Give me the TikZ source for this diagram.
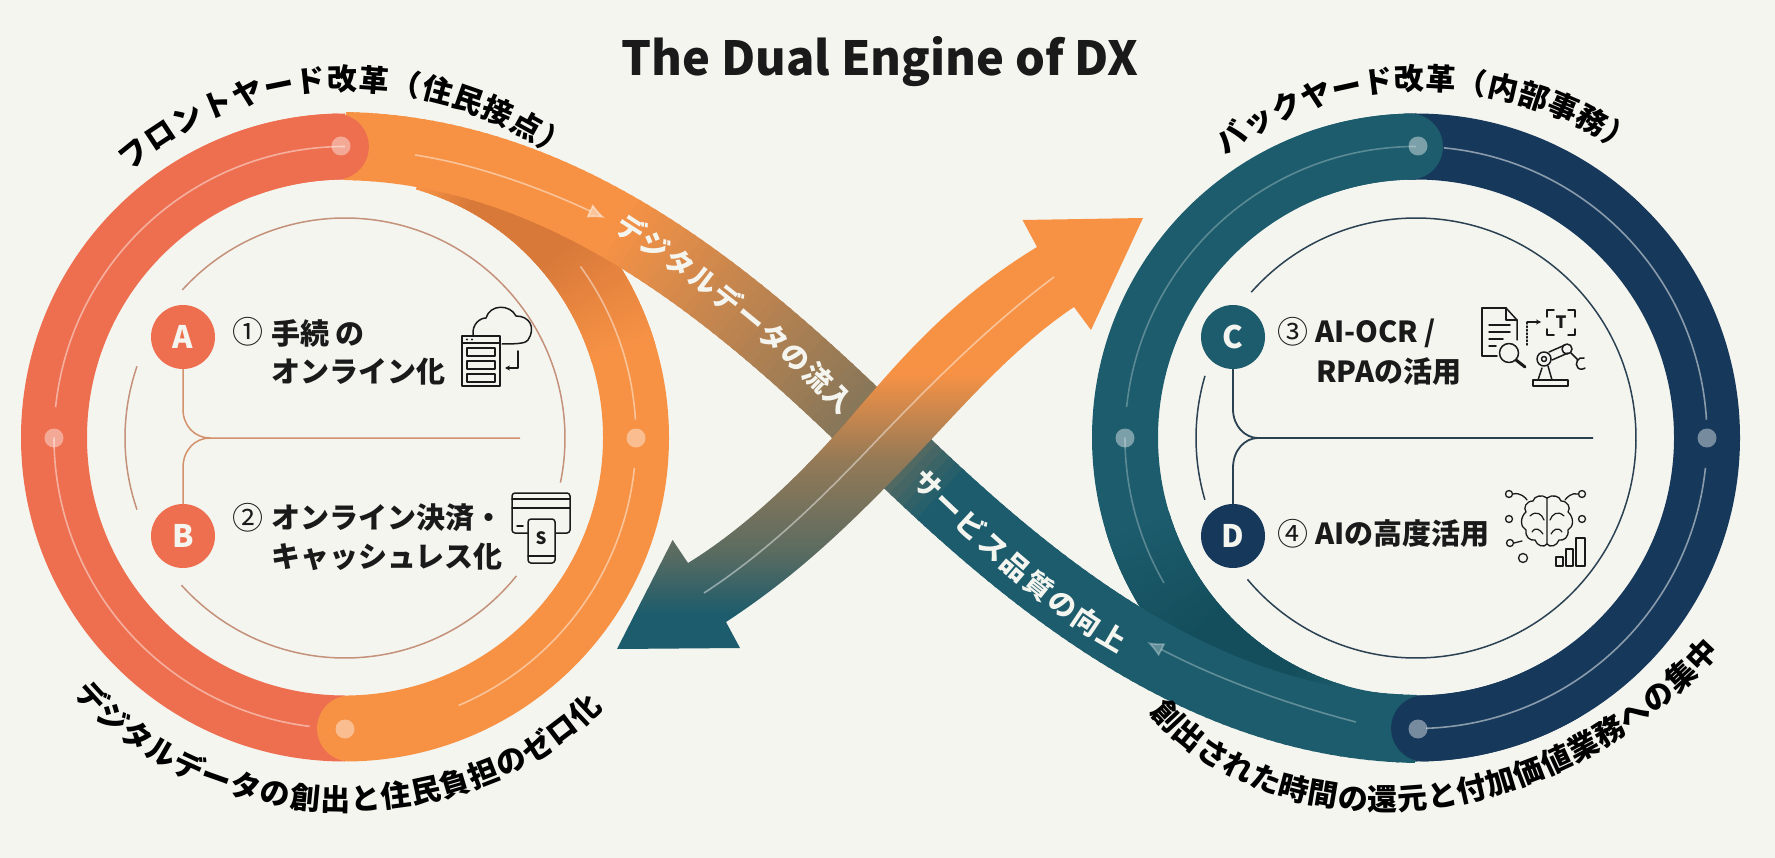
\documentclass[tikz,border=0pt]{standalone}
\usepackage{fontspec}
\setmainfont{Noto Sans CJK JP}
\usetikzlibrary{arrows.meta,decorations.text,decorations.pathmorphing}
\definecolor{bgc}{HTML}{F5F5F0}
\definecolor{coralc}{HTML}{EE6F50}
\definecolor{orangec}{HTML}{F79245}
\definecolor{orangedark}{HTML}{D8793A}
\definecolor{tealc}{HTML}{1C5C6C}
\definecolor{tealdark}{HTML}{144E5C}
\definecolor{navyc}{HTML}{16385A}
\definecolor{inkc}{HTML}{1A1A1A}
\definecolor{lineleft}{HTML}{C4917B}
\definecolor{lineright}{HTML}{2A4152}
\colorlet{mixa}{orangec!55!tealc}
\colorlet{mixb}{orangec!28!tealc}
\pgfdeclareverticalshading{crossshade}{100bp}{color(0bp)=(tealc); color(29bp)=(tealc); color(36bp)=(mixb); color(47bp)=(mixa); color(57bp)=(orangec); color(100bp)=(orangec)}
\newcommand\ribbez[6]{\pgfmathsetmacro#1{(1-#2)*(1-#2)*(1-#2)*#3+3*(1-#2)*(1-#2)*#2*#4+3*(1-#2)*#2*#2*#5+#2*#2*#2*#6}}
\newcommand\arcfont{\fontsize{30}{30}\selectfont\bfseries}
\newcommand\ribfont{\fontsize{28}{28}\selectfont\bfseries}
\newcommand\itemfont{\fontsize{29}{29}\selectfont\bfseries}
\newcommand\numfont{\fontsize{31}{31}\selectfont}
\tikzset{
  ringband/.style={line width=66pt,line cap=round},
  ringbutt/.style={line width=66pt,line cap=butt},
  pale/.style={draw=white,line width=1.6pt,opacity=.45},
  dotmark/.style={circle,inner sep=0pt,minimum size=19pt},
  badge/.style={circle,inner sep=0pt,minimum size=64pt,text=bgc,font=\fontsize{31}{31}\selectfont\bfseries},
  itemtext/.style={anchor=west,inner sep=0pt,text=inkc,font=\itemfont},
  numtext/.style={inner sep=0pt,text=inkc,font=\numfont},
  icon/.style={draw=inkc,line width=1.5pt,line join=round,line cap=round},
  thinarc/.style={line width=1.5pt},
}
\begin{document}
\begin{tikzpicture}[x=1pt,y=-1pt]
\useasboundingbox (0,0) rectangle (1775,858);
\fill[bgc] (0,0) rectangle (1775,858);

% ---- left ring
\draw[ringbutt,coralc] (345,437.5) ++(270:291) arc[start angle=270,end angle=90,radius=291];
\draw[ringband,orangec] (345,437.5) ++(89:291) arc[start angle=89,end angle=-70,radius=291];
\foreach \a in {-74,-73,...,-18}{
  \pgfmathsetmacro\p{max(0,min(100,min((-18-\a)*100/24,(\a+74)*100/12)))}
  \draw[ringbutt,color={orangedark!\p!orangec}] (345,437.5) ++(\a:291) arc[start angle=\a,end angle=\a+1.4,radius=291];
}
% ---- right ring
\draw[ringbutt,tealc] (1416,437.5) ++(270:291) arc[start angle=270,end angle=90,radius=291];
\foreach \a in {106,107,...,162}{
  \pgfmathsetmacro\p{max(0,min(100,min((162-\a)*100/24,(\a-106)*100/12)))}
  \draw[ringbutt,color={tealdark!\p!tealc}] (1416,437.5) ++(\a:291) arc[start angle=\a,end angle=\a+1.4,radius=291];
}
\draw[ringbutt,navyc] (1416,437.5) ++(90:291) arc[start angle=90,end angle=-92,radius=291];

% ---- ribbon from the left ring to the right ring
\foreach \i in {0,...,69}{
  \pgfmathsetmacro\ta{\i/70}
  \pgfmathsetmacro\tb{min(1,(\i+1.4)/70)}
  \ribbez\xa\ta{345}{560}{730}{880.5}\ribbez\ya\ta{146}{150}{290}{437.5}
  \ribbez\xb\tb{345}{560}{730}{880.5}\ribbez\yb\tb{146}{150}{290}{437.5}
  \pgfmathsetmacro\pc{\ta<0.45?100:100-(\ta-0.45)/0.55*58}
  \draw[line width=68pt,color={orangec!\pc!tealc}] (\xa,\ya) -- (\xb,\yb);
}
\foreach \i in {0,...,69}{
  \pgfmathsetmacro\ta{\i/70}
  \pgfmathsetmacro\tb{min(1,(\i+1.4)/70)}
  \ribbez\xa\ta{880.5}{1031}{1201}{1416}\ribbez\ya\ta{437.5}{585}{725}{729}
  \ribbez\xb\tb{880.5}{1031}{1201}{1416}\ribbez\yb\tb{437.5}{585}{725}{729}
  \pgfmathsetmacro\pc{\ta<0.13?42*(1-\ta/0.13):0}
  \draw[line width=68pt,color={orangec!\pc!tealc}] (\xa,\ya) -- (\xb,\yb);
}

% ---- rounded ends lying on top
\draw[ringband,coralc] (345,437.5) ++(250:291) arc[start angle=250,end angle=268.2,radius=291];
\draw[ringband,tealc] (1416,437.5) ++(250:291) arc[start angle=250,end angle=268.8,radius=291];
\draw[ringband,navyc] (1416,437.5) ++(60:291) arc[start angle=60,end angle=88.4,radius=291];

% ---- pale lines in the rings
\draw[pale] (345,437.5) ++(270:291) arc[start angle=270,end angle=186,radius=291];
\draw[pale] (345,437.5) ++(180:291) arc[start angle=180,end angle=97,radius=291];
\draw[pale] (345,437.5) ++(-3.5:291) arc[start angle=-3.5,end angle=-36,radius=291];
\draw[pale] (345,437.5) ++(6:291) arc[start angle=6,end angle=67,radius=291];
\draw[pale,opacity=.5] (1416,437.5) ++(-84.5:291) arc[start angle=-84.5,end angle=-3.5,radius=291];
\draw[pale,opacity=.5] (1416,437.5) ++(6:291) arc[start angle=6,end angle=88,radius=291];
\draw[pale,opacity=.28] (1416,437.5) ++(270:291) arc[start angle=270,end angle=186,radius=291];
\draw[pale,opacity=.28] (1416,437.5) ++(180:291) arc[start angle=180,end angle=150,radius=291];
\draw[pale,-{Latex[length=17pt,width=15pt]}] (415,155) .. controls (480,165) and (545,190) .. (605,218);
\draw[pale,opacity=.3,-{Latex[length=17pt,width=15pt]}] (1356,722) .. controls (1290,705) and (1220,680) .. (1147,642);

% ---- ring dots
\node[dotmark,fill=white,fill opacity=.4] (dA) at (341,146) {};
\node[dotmark,fill=white,fill opacity=.4] (dB) at (54,438) {};
\node[dotmark,fill=white,fill opacity=.4] (dC) at (636,438) {};
\node[dotmark,fill=white,fill opacity=.4] (dD) at (345,729) {};
\node[dotmark,fill=white,fill opacity=.42] (dE) at (1418,146) {};
\node[dotmark,fill=white,fill opacity=.42] (dF) at (1125,438) {};
\node[dotmark,fill=white,fill opacity=.42] (dG) at (1707,438) {};
\node[dotmark,fill=white,fill opacity=.42] (dH) at (1418,729) {};

% ---- crossing double arrow
\shade[shading=crossshade] (1143,218) -- (1022.5,220) -- (1037,247)
  .. controls (950,300) and (900,360) .. (855,412)
  .. controls (810,465) and (750,525) .. (688,563)
  -- (672.6,540) -- (617,649) -- (740,648) -- (726,622)
  .. controls (790,580) and (840,535) .. (907,465)
  .. controls (960,410) and (1010,350) .. (1074,307)
  -- (1091,330) -- cycle;
\draw[pale] (1054,277) .. controls (990,325) and (935,380) .. (880,437) .. controls (825,495) and (770,550) .. (704,593);

% ---- inner arcs and trees, left
\draw[thinarc,lineleft] (345,438) ++(-137.7:220) arc[start angle=-137.7,end angle=11.7,radius=220];
\draw[thinarc,lineleft] (345,438) ++(38.8:220) arc[start angle=38.8,end angle=138,radius=220];
\draw[thinarc,lineleft] (345,438) ++(161:220) arc[start angle=161,end angle=199,radius=220];
\node[badge,fill=coralc] (A) at (183,337) {A};
\node[badge,fill=coralc] (B) at (183,536) {B};
\coordinate (jl) at (210,438);
\coordinate (el) at (520,438);
\draw[thinarc,lineleft!70!orangec] (A.south) -- ++(0,40) .. controls (183,426) and (195,438) .. (jl) -- (el);
\draw[thinarc,lineleft!70!orangec] (B.north) -- ++(0,-36) .. controls (183,450) and (195,438) .. (jl);

% ---- inner arcs and trees, right
\draw[thinarc,lineright] (1416,438) ++(-138.5:220) arc[start angle=-138.5,end angle=140,radius=220];
\draw[thinarc,lineright] (1416,438) ++(163.7:220) arc[start angle=163.7,end angle=196.4,radius=220];
\node[badge,fill=tealc] (C) at (1233,337) {C};
\node[badge,fill=navyc] (D) at (1233,536) {D};
\coordinate (jr) at (1258,438);
\coordinate (er) at (1593,438);
\draw[thinarc,lineright,line width=1.8pt] (C.south) -- ++(0,40) .. controls (1233,426) and (1245,438) .. (jr) -- (er);
\draw[thinarc,lineright,line width=1.8pt] (D.north) -- ++(0,-36) .. controls (1233,450) and (1245,438) .. (jr);

% ---- item labels
\node[numtext] (n1) at (248,332) {①};
\node[itemtext] (t1a) at (271,333) {手続 の};
\node[itemtext] (t1b) at (271,372) {オンライン化};
\node[numtext] (n2) at (248,518) {②};
\node[itemtext] (t2a) at (271,518) {オンライン決済・};
\node[itemtext] (t2b) at (271,557) {キャッシュレス化};
\node[numtext] (n3) at (1293,332) {③};
\node[itemtext] (t3a) at (1315,333) {AI-OCR /};
\node[itemtext] (t3b) at (1316,372) {RPAの活用};
\node[numtext] (n4) at (1293,534) {④};
\node[itemtext] (t4a) at (1315,534) {AIの高度活用};

% ---- icon: cloud and form
\draw[icon] (462,336) rectangle (500,386);
\draw[icon] (462,343) -- (500,343);
\fill[inkc] (467,339.5) circle (1.2pt) (472,339.5) circle (1.2pt);
\draw[icon] (467,348) rectangle (495,356) (467,361) rectangle (495,369) (467,374) rectangle (495,382);
\draw[icon] (473,335) .. controls (472,324) and (480,318) .. (486,318) .. controls (490,304) and (510,304) .. (516,316) .. controls (530,316) and (536,328) .. (528,340) .. controls (526,343) and (520,344) .. (502,344);
\draw[icon,-{Stealth[length=5pt,width=5pt]}] (518,351) -- (518,368) -- (505,368);

% ---- icon: card and phone
\draw[icon,rounded corners=3pt] (512,493) rectangle (570,533);
\draw[icon] (512,499) -- (570,499) (512,508) -- (570,508) (517,526) -- (523,526);
\draw[icon,fill=bgc,rounded corners=3pt] (528,519) rectangle (555,563);
\draw[icon] (528,556) -- (555,556);
\node[inner sep=0pt,text=inkc,font=\fontsize{17}{17}\selectfont\bfseries] (dollar) at (541,538) {S};

% ---- icon: document, magnifier, arrow, bracket, robot arm
\draw[icon] (1506,308) -- (1482,308) -- (1482,356) -- (1497,356);
\draw[icon] (1506,308) -- (1517,320) -- (1517,340);
\draw[icon] (1506,308) -- (1506,320) -- (1517,320);
\draw[icon] (1489,325) -- (1510,325) (1489,332) -- (1510,332) (1489,339) -- (1503,339) (1489,346) -- (1496,346);
\draw[icon,fill=bgc] (1509,353) circle (9.5pt);
\draw[icon,line width=3pt] (1516,360) -- (1525,367);
\draw[icon,dotted] (1527,345) -- (1527,322);
\draw[icon,-{Stealth[length=5pt,width=5pt]}] (1527,322) -- (1541,322);
\draw[icon] (1547,317) -- (1547,310) -- (1554,310) (1568,310) -- (1575,310) -- (1575,317) (1575,329) -- (1575,335) -- (1568,335) (1554,335) -- (1547,335) -- (1547,329);
\node[inner sep=0pt,text=inkc,font=\fontsize{17}{17}\selectfont\bfseries] (tee) at (1561,322) {T};
\draw[icon] (1533,380) rectangle (1568,386);
\draw[icon] (1538,380) -- (1542,368) (1552,380) -- (1548,366);
\draw[icon] (1544,359) circle (7pt) (1544,359) circle (2.5pt);
\draw[icon] (1549,352) -- (1565,345) (1552,360) -- (1568,353);
\draw[icon] (1567,349) circle (5pt);
\draw[icon] (1571,353) -- (1578,360) (1584,358) .. controls (1578,356) and (1574,364) .. (1578,368) .. controls (1580,370) and (1584,369) .. (1585,368);

% ---- icon: brain, nodes, bars
\draw[icon,line width=1.3pt] (1547,498) .. controls (1542,494) and (1534,496) .. (1533,501) .. controls (1526,501) and (1523,508) .. (1526,512) .. controls (1520,517) and (1520,527) .. (1526,530) .. controls (1525,537) and (1530,541) .. (1535,540) .. controls (1537,546) and (1544,548) .. (1547,544);
\draw[icon,line width=1.3pt] (1547,498) .. controls (1552,494) and (1560,496) .. (1561,501) .. controls (1568,501) and (1571,508) .. (1568,512) .. controls (1574,517) and (1574,527) .. (1568,530) .. controls (1569,537) and (1564,541) .. (1559,540) .. controls (1557,546) and (1550,548) .. (1547,544);
\draw[icon,line width=1.2pt] (1547,498) -- (1547,544) (1530,516) .. controls (1536,510) and (1542,514) .. (1544,520) (1532,532) .. controls (1536,526) and (1540,530) .. (1543,534) (1564,516) .. controls (1558,510) and (1552,514) .. (1550,520) (1562,532) .. controls (1558,526) and (1553,530) .. (1551,534);
\draw[icon,line width=1.3pt] (1509,494) circle (3.5pt) (1582,494) circle (3.5pt) (1509,519) circle (3.5pt) (1582,519) circle (3.5pt) (1510,543) circle (3.5pt) (1523,558) circle (4.5pt);
\draw[icon,line width=1.3pt] (1513,494) .. controls (1520,492) and (1526,498) .. (1527,500) (1578,494) .. controls (1572,492) and (1566,498) .. (1565,500) (1514,543) -- (1522,541);
\draw[icon,line width=1.3pt] (1556,566) rectangle (1563,557) (1566,566) rectangle (1573,549) (1576,566) rectangle (1585,538);

% ---- arc titles and captions
\path[decorate,decoration={text along path,text align=fit to path,text={|\arcfont|フロントヤード改革（住民接点）}}]
  (130,172) .. controls (250,65) and (430,65) .. (560,160);
\path[decorate,decoration={text along path,text align=fit to path,text={|\arcfont|バックヤード改革（内部事務）}}]
  (1226,156) .. controls (1335,68) and (1505,68) .. (1625,155);
\path[decorate,decoration={text along path,text align=fit to path,text={|\arcfont|デジタルデータの創出と住民負担のゼロ化}}]
  (74,693) .. controls (200,847) and (470,847) .. (603,708);
\path[decorate,decoration={text along path,text align=fit to path,text={|\arcfont|創出された時間の還元と付加価値業務への集中}}]
  (1150,712) .. controls (1265,852) and (1540,852) .. (1720,652);

% ---- ribbon labels
\path[decorate,decoration={text along path,text align=fit to path,text color=bgc,text={|\ribfont|デジタルデータの流入}}]
  (613,231) .. controls (680,272) and (780,350) .. (841,416);
\path[decorate,decoration={text along path,text align=fit to path,text color=bgc,text={|\ribfont|サービス品質の向上}}]
  (910,483) .. controls (970,540) and (1040,610) .. (1119,653);

% ---- title
\node[inner sep=0pt,text=inkc,font=\fontsize{47}{47}\selectfont\bfseries] (title) at (880,62) {The Dual Engine of DX};
\end{tikzpicture}
\end{document}
